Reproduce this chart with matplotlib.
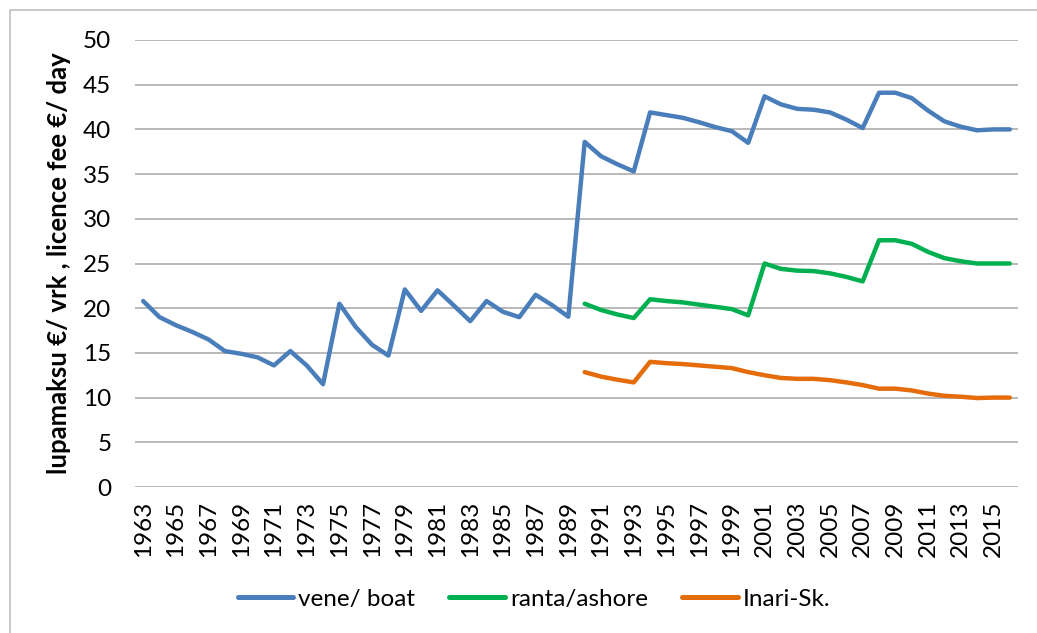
import matplotlib
matplotlib.use('Agg')
import matplotlib.pyplot as plt
from matplotlib.patches import Rectangle

plt.rcParams['font.family'] = ['Lato', 'DejaVu Sans']

# データ
years = list(range(1963, 2017))

boat = [20.8, 19.0, 18.1, 17.35, 16.5, 15.2, 14.9, 14.5, 13.6, 15.2,
        13.6, 11.5, 20.5, 17.9, 15.9, 14.7, 22.1, 19.7, 22.0, 20.3,
        18.55, 20.8, 19.6, 19.0, 21.5, 20.35, 19.05, 38.6, 37.0, 36.1,
        35.3, 41.9, 41.6, 41.3, 40.8, 40.25, 39.8, 38.5, 43.7, 42.8,
        42.3, 42.2, 41.9, 41.1, 40.15, 44.1, 44.1, 43.5, 42.1, 40.9,
        40.3, 39.9, 40.0, 40.0]

shore_years = list(range(1990, 2017))
shore = [20.5, 19.8, 19.3, 18.9, 21.0, 20.8, 20.65, 20.4, 20.15, 19.9,
         19.2, 25.0, 24.4, 24.2, 24.15, 23.9, 23.5, 23.0, 27.6, 27.6,
         27.2, 26.3, 25.6, 25.25, 25.0, 25.0, 25.0]

inari = [12.85, 12.35, 12.0, 11.7, 14.0, 13.85, 13.75, 13.6, 13.45, 13.3,
         12.85, 12.5, 12.2, 12.1, 12.1, 11.95, 11.7, 11.4, 11.0, 11.0,
         10.8, 10.45, 10.2, 10.1, 9.95, 10.0, 10.0]

labels = ['vene/ boat', 'ranta/ashore', 'Inari-Sk.']
colors = ['#4A7EBB', '#00B050', '#E46C0A']

W, H = 1037, 633
fig = plt.figure(figsize=(W / 100, H / 100), dpi=100)
ax = fig.add_axes([135 / W, 1 - 487 / H, (1018 - 135) / W, (487 - 40) / H])

# 外枠
fig.patches.append(Rectangle((10 / W, -0.1), 1.2, 1.1 - 10 / H, transform=fig.transFigure,
                             fill=False, edgecolor='#BFBFBF', linewidth=1.2))

ax.plot(years, boat, color=colors[0], lw=3.2, label=labels[0], solid_capstyle='round',
        solid_joinstyle='round')
ax.plot(shore_years, shore, color=colors[1], lw=3.2, label=labels[1], solid_capstyle='round',
        solid_joinstyle='round')
ax.plot(shore_years, inari, color=colors[2], lw=3.2, label=labels[2], solid_capstyle='round',
        solid_joinstyle='round')

ax.set_xlim(1962.5, 2016.5)
ax.set_ylim(0, 50)
ax.set_yticks(range(0, 51, 5))
ax.set_xticks(years[::2])
ax.set_xticklabels([str(y) for y in years[::2]], rotation=90)
ax.tick_params(axis='both', length=0, labelsize=17.5)
ax.tick_params(axis='y', pad=17)
ax.tick_params(axis='x', pad=10)
ax.grid(axis='y', color='#A6A6A6', lw=1.1)
ax.set_axisbelow(True)
for s in ax.spines.values():
    s.set_visible(False)

ax.set_ylabel('lupamaksu €/ vrk , licence fee €/ day', fontsize=18.5, fontweight='bold',
              labelpad=9)

leg = fig.legend(loc='center', bbox_to_anchor=(534 / W, 1 - 599 / H), ncol=3, frameon=False,
                 fontsize=17.5, handlelength=2.3, handletextpad=0.2, columnspacing=1.4)
for ln in leg.get_lines():
    ln.set_linewidth(3.6)

fig.savefig('out.png', dpi=100)
